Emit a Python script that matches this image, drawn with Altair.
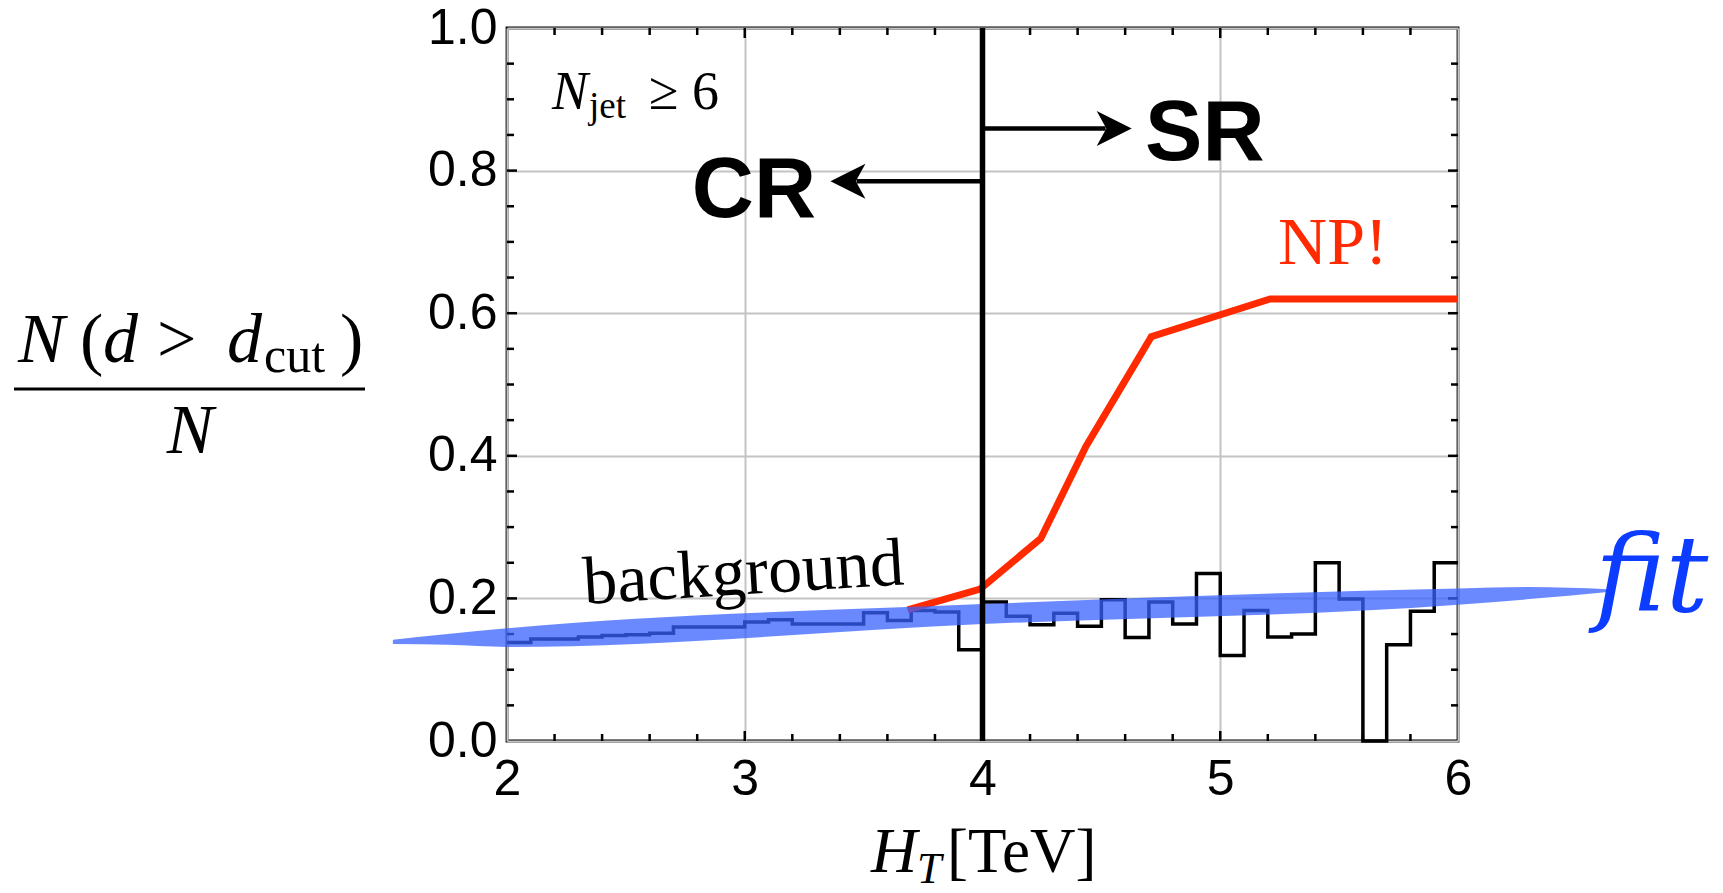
import altair as alt
import pandas as pd

# ---------------- data ----------------
bin_left = [2.0, 2.1, 2.2, 2.3, 2.4, 2.5, 2.6, 2.7, 2.8, 2.9,
            3.0, 3.1, 3.2, 3.3, 3.4, 3.5, 3.6, 3.7, 3.8, 3.9,
            4.0, 4.1, 4.2, 4.3, 4.4, 4.5, 4.6, 4.7, 4.8, 4.9,
            5.0, 5.1, 5.2, 5.3, 5.4, 5.5, 5.6, 5.7, 5.8, 5.9]
bg_vals = [0.138, 0.143, 0.143, 0.146, 0.148, 0.149, 0.151, 0.160, 0.160, 0.160,
           0.167, 0.170, 0.164, 0.164, 0.164, 0.180, 0.169, 0.183, 0.181, 0.128,
           0.195, 0.175, 0.163, 0.179, 0.161, 0.198, 0.145, 0.195, 0.164, 0.235,
           0.120, 0.183, 0.146, 0.150, 0.250, 0.199, 0.000, 0.135, 0.182, 0.250]
x_end = 6.0

np_x = [3.685, 3.99, 4.245, 4.435, 4.71, 5.21, 6.0]
np_y = [0.184, 0.213, 0.284, 0.413, 0.567, 0.620, 0.620]

fit_x = [1.52, 1.75, 2.0, 4.0, 6.0, 6.3, 6.63]
fit_lo = [0.136, 0.135, 0.132, 0.164, 0.191, 0.199, 0.209]
fit_hi = [0.142, 0.150, 0.158, 0.192, 0.214, 0.216, 0.213]

cut_x = 4.0
sr_y, sr_tip = 0.859, 4.628
cr_y, cr_tip = 0.785, 3.36

x_ticks = [2, 3, 4, 5, 6]
y_ticks = [0.0, 0.2, 0.4, 0.6, 0.8, 1.0]
x_minor = [2.2, 2.4, 2.6, 2.8, 3.2, 3.4, 3.6, 3.8, 4.2, 4.4, 4.6, 4.8,
           5.2, 5.4, 5.6, 5.8]
x_major = [3, 4, 5]
y_minor = [0.05, 0.1, 0.15, 0.25, 0.3, 0.35, 0.45, 0.5, 0.55, 0.65, 0.7,
           0.75, 0.85, 0.9, 0.95]
y_major = [0.2, 0.4, 0.6, 0.8]

# ---------------- layout ----------------
W, H = 951, 713
xs = alt.Scale(domain=[2, 6], nice=False, zero=False)
ys = alt.Scale(domain=[0, 1], nice=False, zero=False)
SANS = "Liberation Sans"
SERIF = "Liberation Serif"

X_AX = alt.Axis(values=x_ticks, format="d", title=None, grid=True,
                gridColor="#c4c4c4", gridWidth=2, domain=False, ticks=False,
                labelFont=SANS, labelFontSize=50, labelColor="black",
                labelPadding=13, labelFlush=False)
Y_AX = alt.Axis(values=y_ticks, format=".1f", title=None, grid=True,
                gridColor="#c4c4c4", gridWidth=2, domain=False, ticks=False,
                labelFont=SANS, labelFontSize=50, labelColor="black",
                labelPadding=10, labelFlush=False)


def X(f):
    return alt.X(f, scale=xs, axis=X_AX)


def Y(f):
    return alt.Y(f, scale=ys, axis=Y_AX)


# histogram step line
hist_df = pd.DataFrame({"x": bin_left + [x_end], "y": bg_vals + [bg_vals[-1]]})
hist = alt.Chart(hist_df).mark_line(
    interpolate="step-after", color="black", strokeWidth=3.5, clip=False
).encode(x=X("x:Q"), y=Y("y:Q"))

# fit band
fit_df = pd.DataFrame({"x": fit_x, "lo": fit_lo, "hi": fit_hi})
fit = alt.Chart(fit_df).mark_area(
    color="#3a62ff", opacity=0.75, clip=False, interpolate="monotone"
).encode(x=X("x:Q"), y=Y("lo:Q"), y2="hi:Q")

# NP line
np_df = pd.DataFrame({"x": np_x, "y": np_y})
npline = alt.Chart(np_df).mark_line(color="#ff2a00", strokeWidth=7).encode(
    x=X("x:Q"), y=Y("y:Q"))

# vertical cut line
cut = alt.Chart(pd.DataFrame({"x": [cut_x], "y": [0.0], "y2": [1.0]})).mark_rule(
    color="black", strokeWidth=5.5
).encode(x=X("x:Q"), y=Y("y:Q"), y2="y2:Q")

# arrows
head_off = 0.074  # half of head size in data units
shaft_df = pd.DataFrame({
    "x": [cut_x, cut_x],
    "x2": [sr_tip - 0.11, cr_tip + 0.11],
    "y": [sr_y, cr_y],
})
shafts = alt.Chart(shaft_df).mark_rule(color="black", strokeWidth=4.5).encode(
    x=X("x:Q"), x2="x2:Q", y=Y("y:Q"))
head_r = alt.Chart(pd.DataFrame({"x": [sr_tip - head_off], "y": [sr_y]})).mark_point(
    shape="M1,0 L-1,-1 L-0.45,0 L-1,1 Z", size=1225, filled=True,
    color="black", opacity=1
).encode(x=X("x:Q"), y=Y("y:Q"))
head_l = alt.Chart(pd.DataFrame({"x": [cr_tip + head_off], "y": [cr_y]})).mark_point(
    shape="M-1,0 L1,-1 L0.45,0 L1,1 Z", size=1225, filled=True,
    color="black", opacity=1
).encode(x=X("x:Q"), y=Y("y:Q"))


def dtext(x, y, s, **kw):
    df = pd.DataFrame({"x": [x], "y": [y], "t": [s]})
    return alt.Chart(df).mark_text(clip=False, **kw).encode(
        x=X("x:Q"), y=Y("y:Q"), text="t:N")


def ptext(px, py, s, **kw):
    df = pd.DataFrame({"t": [s]})
    return alt.Chart(df).mark_text(**kw).encode(
        x=alt.value(px), y=alt.value(py), text="t:N")


FS = 70
texts = [
    dtext(3.30, 0.735, "CR", font=SANS, fontSize=86, fontWeight="bold",
          align="right", baseline="alphabetic", color="black"),
    dtext(4.684, 0.815, "SR", font=SANS, fontSize=86, fontWeight="bold",
          align="left", baseline="alphabetic", color="black"),
    dtext(5.243, 0.669, "NP!", font=SERIF, fontSize=68,
          align="left", baseline="alphabetic", color="#ff2a00"),
    dtext(3.0, 0.206, "background", font=SERIF, fontSize=68, angle=356.5,
          align="center", baseline="alphabetic", color="black"),
    dtext(2.189, 0.886, "N", font=SERIF, fontSize=54, fontStyle="italic",
          align="left", baseline="alphabetic", color="black"),
    dtext(2.345, 0.874, "jet", font=SERIF, fontSize=37,
          align="left", baseline="alphabetic", color="black"),
    dtext(2.597, 0.886, "\u2265 6", font=SERIF, fontSize=54,
          align="left", baseline="alphabetic", color="black"),
    dtext(6.576, 0.182, "fit", font="DejaVu Serif", fontSize=106,
          fontStyle="italic", align="left", baseline="alphabetic",
          color="#0b3cff"),
    # x title
    ptext(364, 844, "H", font=SERIF, fontSize=64, fontStyle="italic",
          align="left", baseline="alphabetic", color="black"),
    ptext(410, 855, "T", font=SERIF, fontSize=44, fontStyle="italic",
          align="left", baseline="alphabetic", color="black"),
    ptext(440, 844, "[TeV]", font=SERIF, fontSize=63,
          align="left", baseline="alphabetic", color="black"),
    # y title (fraction)
    ptext(-489, 334, "N", font=SERIF, fontSize=FS, fontStyle="italic",
          align="left", baseline="alphabetic", color="black"),
    ptext(-427, 334, "(", font=SERIF, fontSize=FS,
          align="left", baseline="alphabetic", color="black"),
    ptext(-404, 334, "d", font=SERIF, fontSize=FS, fontStyle="italic",
          align="left", baseline="alphabetic", color="black"),
    ptext(-350, 334, ">", font=SERIF, fontSize=FS,
          align="left", baseline="alphabetic", color="black"),
    ptext(-280, 334, "d", font=SERIF, fontSize=FS, fontStyle="italic",
          align="left", baseline="alphabetic", color="black"),
    ptext(-243, 344, "cut", font=SERIF, fontSize=50,
          align="left", baseline="alphabetic", color="black"),
    ptext(-167, 334, ")", font=SERIF, fontSize=FS,
          align="left", baseline="alphabetic", color="black"),
    ptext(-317, 425, "N", font=SERIF, fontSize=FS, fontStyle="italic",
          align="center", baseline="alphabetic", color="black"),
]

frac_bar = alt.Chart(pd.DataFrame({"k": [0]})).mark_rule(
    color="black", strokeWidth=3
).encode(x=alt.value(-493), x2=alt.value(-142), y=alt.value(361))


# inner ticks
def xticks(vals, length):
    df = pd.DataFrame({"v": vals})
    b = alt.Chart(df).mark_rule(color="black", strokeWidth=2.5).encode(
        x=X("v:Q"), y=alt.value(H), y2=alt.value(H - length))
    t = alt.Chart(df).mark_rule(color="black", strokeWidth=2.5).encode(
        x=X("v:Q"), y=alt.value(0), y2=alt.value(length))
    return [b, t]


def yticks(vals, length):
    df = pd.DataFrame({"v": vals})
    l = alt.Chart(df).mark_rule(color="black", strokeWidth=2.5).encode(
        y=Y("v:Q"), x=alt.value(0), x2=alt.value(length))
    r = alt.Chart(df).mark_rule(color="black", strokeWidth=2.5).encode(
        y=Y("v:Q"), x=alt.value(W), x2=alt.value(W - length))
    return [l, r]


ticks = xticks(x_minor, 7) + xticks(x_major, 10) + yticks(y_minor, 7) + yticks(y_major, 10)

chart = alt.layer(
    hist, *ticks, npline, fit, cut, shafts, head_r, head_l, frac_bar, *texts
).properties(
    width=W, height=H,
    autosize=alt.AutoSizeParams(type="none"),
    padding={"left": 499, "top": 20, "right": 256, "bottom": 150},
    background="white",
).configure_view(stroke="black", strokeWidth=2.8)

chart.save("out.html", embed_options={"renderer": "svg", "actions": False})
